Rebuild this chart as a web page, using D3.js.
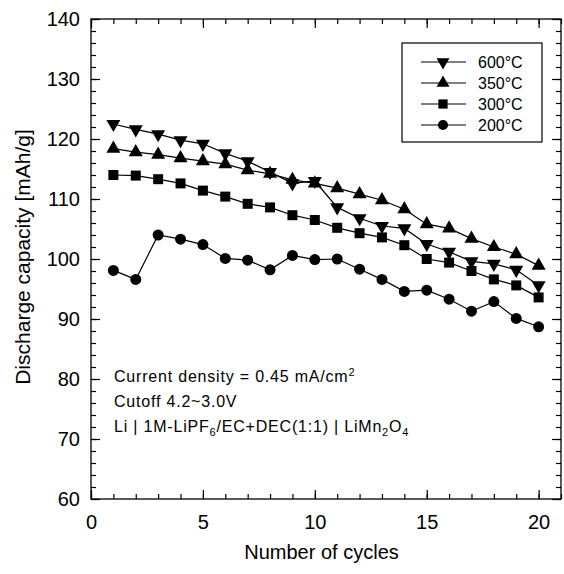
<!DOCTYPE html>
<html>
<head>
<meta charset="utf-8">
<script src="https://cdn.jsdelivr.net/npm/d3@7"></script>
<style>
  body { margin: 0; background: #fff; }
  text { font-family: "Liberation Sans", Arial, sans-serif; fill: #000; }
</style>
</head>
<body>
<div id="chart"></div>
<script>
// Data
const cycles = [1,2,3,4,5,6,7,8,9,10,11,12,13,14,15,16,17,18,19,20];
const cap600 = [122.5,121.6,120.8,119.8,119.2,117.6,116.3,114.5,112.6,113.0,108.6,106.8,105.5,105.1,102.5,101.2,99.6,99.2,98.2,95.6];
const cap350 = [118.4,117.8,117.4,116.8,116.3,115.8,114.8,114.2,113.2,112.6,111.8,110.8,109.8,108.3,105.8,105.1,103.4,102.0,100.8,98.9];
const cap300 = [114.0,113.9,113.3,112.6,111.4,110.4,109.2,108.6,107.3,106.5,105.2,104.3,103.6,102.3,100.0,99.4,98.0,96.6,95.6,93.6];
const cap200 = [98.1,96.6,104.0,103.3,102.4,100.1,99.8,98.2,100.6,99.9,100.0,98.3,96.6,94.6,94.8,93.3,91.3,92.9,90.1,88.7];
const seriesNames = ["600°C", "350°C", "300°C", "200°C"];
const xTicks = [0, 5, 10, 15, 20];
const yTicks = [60, 70, 80, 90, 100, 110, 120, 130, 140];

const margin = { top: 19, right: 3, bottom: 75, left: 91 };
const W = 564, H = 574;
const width = W - margin.left - margin.right;
const height = H - margin.top - margin.bottom;

const svg = d3.select("#chart").append("svg")
    .attr("width", W).attr("height", H);
const g = svg.append("g").attr("transform", `translate(${margin.left},${margin.top})`);

const x = d3.scaleLinear().domain([0, 21]).range([0, width]);
const y = d3.scaleLinear().domain([60, 140]).range([height, 0]);

// Minor ticks (all four sides, pointing inwards)
const xMinor = d3.range(0, 22, 1);
const yMinor = d3.range(60, 141, 2);
g.append("g").attr("transform", `translate(0,${height})`)
    .call(d3.axisBottom(x).tickValues(xMinor).tickSize(-5).tickSizeOuter(0).tickFormat(""));
g.append("g")
    .call(d3.axisTop(x).tickValues(xMinor).tickSize(-5).tickSizeOuter(0).tickFormat(""));
g.append("g")
    .call(d3.axisLeft(y).tickValues(yMinor).tickSize(-5).tickSizeOuter(0).tickFormat(""));
g.append("g").attr("transform", `translate(${width},0)`)
    .call(d3.axisRight(y).tickValues(yMinor).tickSize(-5).tickSizeOuter(0).tickFormat(""));

// Major ticks with labels
g.append("g").attr("class", "xaxis").attr("transform", `translate(0,${height})`)
    .call(d3.axisBottom(x).tickValues(xTicks).tickSize(-9).tickSizeOuter(0).tickPadding(16));
g.append("g")
    .call(d3.axisTop(x).tickValues(xTicks).tickSize(-9).tickSizeOuter(0).tickFormat(""));
g.append("g").attr("class", "yaxis")
    .call(d3.axisLeft(y).tickValues(yTicks).tickSize(-9).tickSizeOuter(0).tickPadding(11));
g.append("g").attr("transform", `translate(${width},0)`)
    .call(d3.axisRight(y).tickValues(yTicks).tickSize(-9).tickSizeOuter(0).tickFormat(""));

g.selectAll(".domain").remove();
g.selectAll(".tick line").attr("stroke", "#000").attr("stroke-width", 1.2);
g.selectAll(".xaxis text, .yaxis text")
    .style("font-size", "20px")
    .style("font-family", "'Liberation Sans', Arial, sans-serif");

// Plot frame
g.append("rect")
    .attr("width", width).attr("height", height)
    .attr("fill", "none").attr("stroke", "#000").attr("stroke-width", 1.3);

// Axis titles
svg.append("text")
    .attr("x", margin.left + x(10.3)).attr("y", 559)
    .attr("text-anchor", "middle")
    .style("font-size", "20px")
    .text("Number of cycles");
svg.append("text")
    .attr("transform", `translate(30,${margin.top + height / 2 - 2}) rotate(-90)`)
    .attr("text-anchor", "middle")
    .style("font-size", "21px")
    .text("Discharge capacity [mAh/g]");

// Series
const symbols = [
    { type: d3.symbolTriangle, rot: 180, size: 85 },
    { type: d3.symbolTriangle, rot: 0, size: 85 },
    { type: d3.symbolSquare, rot: 0, size: 100 },
    { type: d3.symbolCircle, rot: 0, size: 95 }
];
const allSeries = [cap600, cap350, cap300, cap200].map((vals, i) => ({
    name: seriesNames[i],
    sym: symbols[i],
    values: cycles.map((c, j) => ({ c: c, v: vals[j] }))
}));

const line = d3.line().x(d => x(d.c)).y(d => y(d.v));

g.selectAll(".series-line")
    .data(allSeries)
    .enter().append("path")
    .attr("fill", "none")
    .attr("stroke", "#000")
    .attr("stroke-width", 1.2)
    .attr("d", d => line(d.values));

allSeries.forEach(s => {
    const sym = d3.symbol().type(s.sym.type).size(s.sym.size);
    g.append("g").selectAll("path")
        .data(s.values)
        .enter().append("path")
        .attr("d", sym)
        .attr("fill", "#000")
        .attr("transform", d => `translate(${x(d.c)},${y(d.v)}) rotate(${s.sym.rot})`);
});

// Legend
const legend = svg.append("g");
legend.append("rect")
    .attr("x", 402).attr("y", 43).attr("width", 140).attr("height", 99)
    .attr("fill", "#fff").attr("stroke", "#000").attr("stroke-width", 1.2);
const items = legend.selectAll(".item")
    .data(allSeries)
    .enter().append("g")
    .attr("transform", (d, i) => `translate(0,${62 + i * 21})`);
items.append("line")
    .attr("x1", 421).attr("x2", 466)
    .attr("stroke", "#000").attr("stroke-width", 1.2);
items.append("path")
    .attr("d", d => d3.symbol().type(d.sym.type).size(d.sym.size * 0.85)())
    .attr("transform", d => `translate(443,0) rotate(${d.sym.rot})`)
    .attr("fill", "#000");
items.append("text")
    .attr("x", 478).attr("dy", "0.36em")
    .style("font-size", "16px")
    .text(d => d.name);

// Annotation
const note = svg.append("g").style("font-size", "16px").style("letter-spacing", "0.8px");
const l1 = note.append("text").attr("x", 114).attr("y", 382);
l1.append("tspan").text("Current density = 0.45 mA/cm");
l1.append("tspan").attr("dy", -6).style("font-size", "11px").text("2");
note.append("text").attr("x", 114).attr("y", 407).text("Cutoff 4.2~3.0V");
const l3 = note.append("text").attr("x", 114).attr("y", 432);
l3.append("tspan").text("Li | 1M-LiPF");
l3.append("tspan").attr("dy", 4).style("font-size", "11px").text("6");
l3.append("tspan").attr("dy", -4).text("/EC+DEC(1:1) | LiMn");
l3.append("tspan").attr("dy", 4).style("font-size", "11px").text("2");
l3.append("tspan").attr("dy", -4).text("O");
l3.append("tspan").attr("dy", 4).style("font-size", "11px").text("4");
</script>
</body>
</html>
